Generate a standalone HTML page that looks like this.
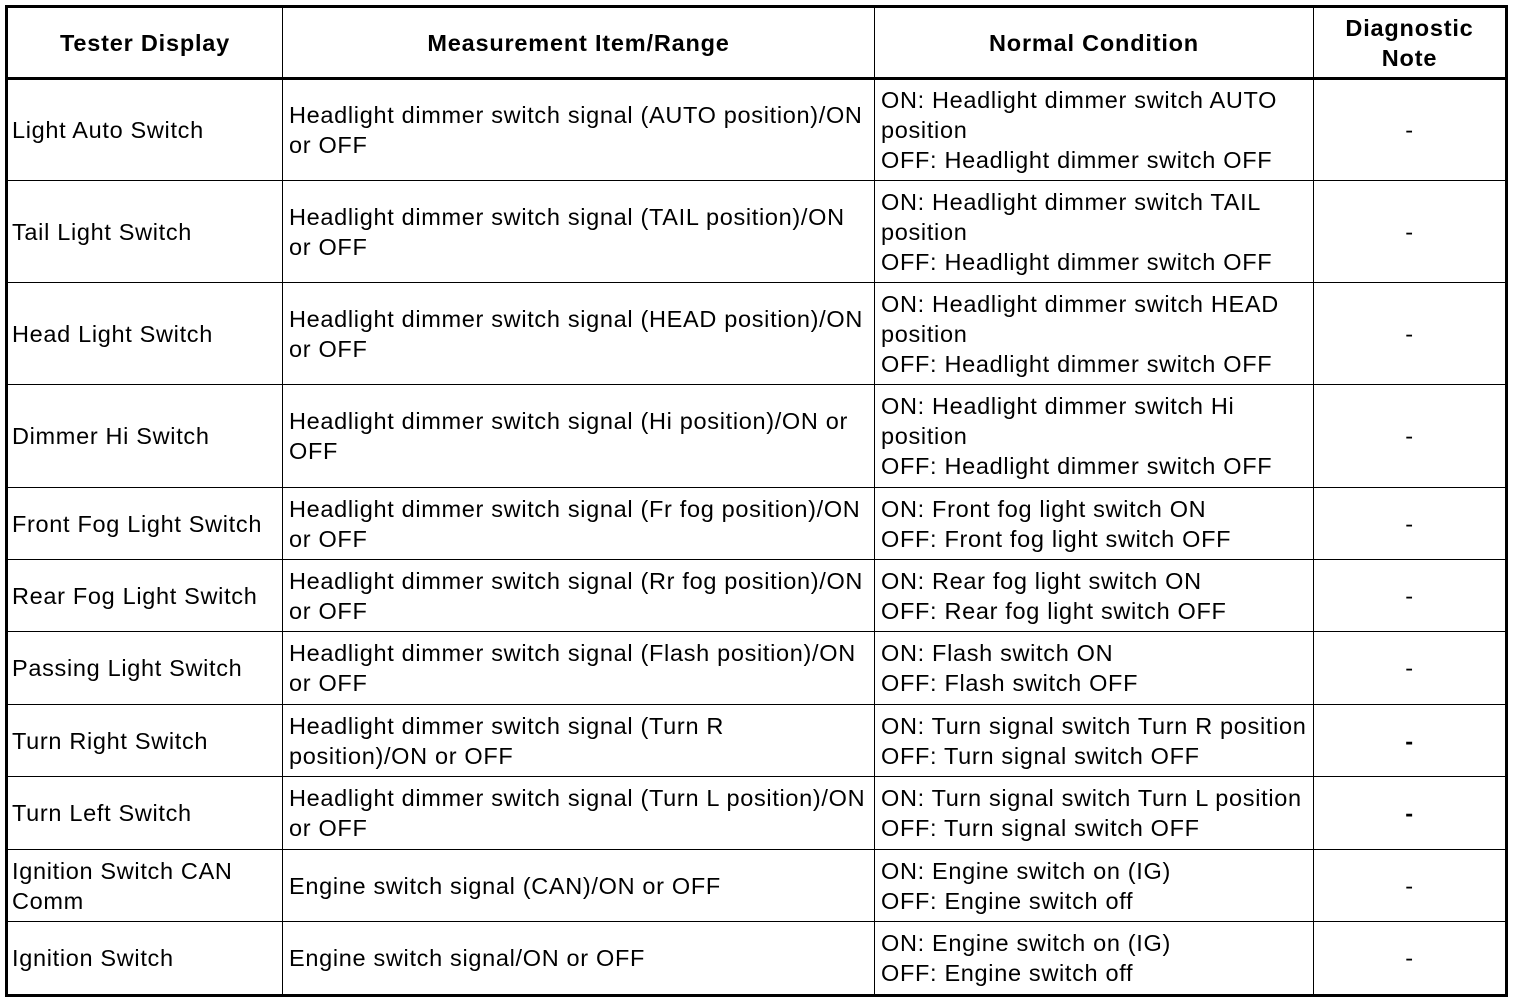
<!DOCTYPE html>
<html><head><meta charset="utf-8"><style>
body{margin:0;width:1520px;height:1002px;background:#fff;position:relative;font-family:"Liberation Sans",Arial,sans-serif;color:#000;overflow:hidden}
.c{position:absolute;display:flex;align-items:center;font-size:23.5px;line-height:30px;letter-spacing:0.68px;box-sizing:border-box;padding-left:6px;white-space:nowrap}
.h{font-weight:bold;justify-content:center;text-align:center;padding:0;letter-spacing:0.8px}
.n{justify-content:center;padding:0}
.l{position:absolute;background:#000}
</style></head><body>
<div class="l" style="left:5px;top:5px;width:1503px;height:3px"></div>
<div class="l" style="left:5px;top:994px;width:1503px;height:3px"></div>
<div class="l" style="left:5px;top:5px;width:3px;height:992px"></div>
<div class="l" style="left:1505px;top:5px;width:3px;height:992px"></div>
<div class="l" style="left:5px;top:77px;width:1503px;height:3px"></div>
<div class="l" style="left:282px;top:5px;width:1px;height:992px"></div>
<div class="l" style="left:874px;top:5px;width:1px;height:992px"></div>
<div class="l" style="left:1313px;top:5px;width:1px;height:992px"></div>
<div class="l" style="left:5px;top:180px;width:1503px;height:1px"></div>
<div class="l" style="left:5px;top:282px;width:1503px;height:1px"></div>
<div class="l" style="left:5px;top:384px;width:1503px;height:1px"></div>
<div class="l" style="left:5px;top:487px;width:1503px;height:1px"></div>
<div class="l" style="left:5px;top:559px;width:1503px;height:1px"></div>
<div class="l" style="left:5px;top:631px;width:1503px;height:1px"></div>
<div class="l" style="left:5px;top:704px;width:1503px;height:1px"></div>
<div class="l" style="left:5px;top:776px;width:1503px;height:1px"></div>
<div class="l" style="left:5px;top:849px;width:1503px;height:1px"></div>
<div class="l" style="left:5px;top:921px;width:1503px;height:1px"></div>

<div class="c h" style="left:8px;top:8px;width:274px;height:69px">Tester Display</div>
<div class="c h" style="left:283px;top:8px;width:591px;height:69px">Measurement Item/Range</div>
<div class="c h" style="left:875px;top:8px;width:438px;height:69px">Normal Condition</div>
<div class="c h" style="left:1314px;top:8px;width:191px;height:69px">Diagnostic<br>Note</div>

<div class="c" style="left:6px;top:80px;width:276px;height:100px">Light Auto Switch</div>
<div class="c" style="left:283px;top:80px;width:591px;height:100px">Headlight dimmer switch signal (AUTO position)/ON<br>or OFF</div>
<div class="c" style="left:875px;top:80px;width:438px;height:100px">ON: Headlight dimmer switch AUTO<br>position<br>OFF: Headlight dimmer switch OFF</div>
<div class="c n" style="left:1314px;top:80px;width:191px;height:100px">-</div>

<div class="c" style="left:6px;top:181px;width:276px;height:101px">Tail Light Switch</div>
<div class="c" style="left:283px;top:181px;width:591px;height:101px">Headlight dimmer switch signal (TAIL position)/ON<br>or OFF</div>
<div class="c" style="left:875px;top:181px;width:438px;height:101px">ON: Headlight dimmer switch TAIL<br>position<br>OFF: Headlight dimmer switch OFF</div>
<div class="c n" style="left:1314px;top:181px;width:191px;height:101px">-</div>

<div class="c" style="left:6px;top:283px;width:276px;height:101px">Head Light Switch</div>
<div class="c" style="left:283px;top:283px;width:591px;height:101px">Headlight dimmer switch signal (HEAD position)/ON<br>or OFF</div>
<div class="c" style="left:875px;top:283px;width:438px;height:101px">ON: Headlight dimmer switch HEAD<br>position<br>OFF: Headlight dimmer switch OFF</div>
<div class="c n" style="left:1314px;top:283px;width:191px;height:101px">-</div>

<div class="c" style="left:6px;top:385px;width:276px;height:102px">Dimmer Hi Switch</div>
<div class="c" style="left:283px;top:385px;width:591px;height:102px">Headlight dimmer switch signal (Hi position)/ON or<br>OFF</div>
<div class="c" style="left:875px;top:385px;width:438px;height:102px">ON: Headlight dimmer switch Hi<br>position<br>OFF: Headlight dimmer switch OFF</div>
<div class="c n" style="left:1314px;top:385px;width:191px;height:102px">-</div>

<div class="c" style="left:6px;top:488px;width:276px;height:71px">Front Fog Light Switch</div>
<div class="c" style="left:283px;top:488px;width:591px;height:71px">Headlight dimmer switch signal (Fr fog position)/ON<br>or OFF</div>
<div class="c" style="left:875px;top:488px;width:438px;height:71px">ON: Front fog light switch ON<br>OFF: Front fog light switch OFF</div>
<div class="c n" style="left:1314px;top:488px;width:191px;height:71px">-</div>

<div class="c" style="left:6px;top:560px;width:276px;height:71px">Rear Fog Light Switch</div>
<div class="c" style="left:283px;top:560px;width:591px;height:71px">Headlight dimmer switch signal (Rr fog position)/ON<br>or OFF</div>
<div class="c" style="left:875px;top:560px;width:438px;height:71px">ON: Rear fog light switch ON<br>OFF: Rear fog light switch OFF</div>
<div class="c n" style="left:1314px;top:560px;width:191px;height:71px">-</div>

<div class="c" style="left:6px;top:632px;width:276px;height:72px">Passing Light Switch</div>
<div class="c" style="left:283px;top:632px;width:591px;height:72px">Headlight dimmer switch signal (Flash position)/ON<br>or OFF</div>
<div class="c" style="left:875px;top:632px;width:438px;height:72px">ON: Flash switch ON<br>OFF: Flash switch OFF</div>
<div class="c n" style="left:1314px;top:632px;width:191px;height:72px">-</div>

<div class="c" style="left:6px;top:705px;width:276px;height:71px">Turn Right Switch</div>
<div class="c" style="left:283px;top:705px;width:591px;height:71px">Headlight dimmer switch signal (Turn R<br>position)/ON or OFF</div>
<div class="c" style="left:875px;top:705px;width:438px;height:71px">ON: Turn signal switch Turn R position<br>OFF: Turn signal switch OFF</div>
<div class="c n" style="left:1314px;top:705px;width:191px;height:71px;font-weight:bold">-</div>

<div class="c" style="left:6px;top:777px;width:276px;height:72px">Turn Left Switch</div>
<div class="c" style="left:283px;top:777px;width:591px;height:72px">Headlight dimmer switch signal (Turn L position)/ON<br>or OFF</div>
<div class="c" style="left:875px;top:777px;width:438px;height:72px">ON: Turn signal switch Turn L position<br>OFF: Turn signal switch OFF</div>
<div class="c n" style="left:1314px;top:777px;width:191px;height:72px;font-weight:bold">-</div>

<div class="c" style="left:6px;top:850px;width:276px;height:71px">Ignition Switch CAN<br>Comm</div>
<div class="c" style="left:283px;top:850px;width:591px;height:71px">Engine switch signal (CAN)/ON or OFF</div>
<div class="c" style="left:875px;top:850px;width:438px;height:71px">ON: Engine switch on (IG)<br>OFF: Engine switch off</div>
<div class="c n" style="left:1314px;top:850px;width:191px;height:71px">-</div>

<div class="c" style="left:6px;top:922px;width:276px;height:72px">Ignition Switch</div>
<div class="c" style="left:283px;top:922px;width:591px;height:72px">Engine switch signal/ON or OFF</div>
<div class="c" style="left:875px;top:922px;width:438px;height:72px">ON: Engine switch on (IG)<br>OFF: Engine switch off</div>
<div class="c n" style="left:1314px;top:922px;width:191px;height:72px">-</div>
</body></html>
